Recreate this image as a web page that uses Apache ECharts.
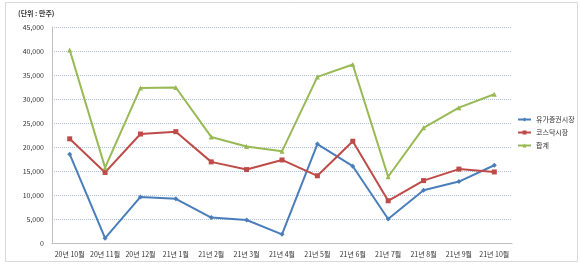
<!DOCTYPE html>
<html><head><meta charset="utf-8">
<script src="https://cdn.jsdelivr.net/npm/echarts@6/dist/echarts.min.js"></script>
<style>html,body{margin:0;padding:0;background:#fff}#c{width:580px;height:266px}</style>
</head><body><div id="c"></div>
<script>
const categories = ['20년 10월','20년 11월','20년 12월','21년 1월','21년 2월','21년 3월','21년 4월','21년 5월','21년 6월','21년 7월','21년 8월','21년 9월','21년 10월'];
const kospi = [18500,1000,9600,9200,5300,4800,1800,20600,16000,5000,11000,12800,16200];
const kosdaq = [21700,14700,22700,23200,16900,15300,17300,14000,21200,8800,13000,15400,14800];
const total = [40200,15700,32300,32400,22100,20100,19100,34600,37200,13800,24000,28200,31000];
const seriesNames = ['유가증권시장','코스닥시장','합계'];
const unitLabel = '(단위 : 만주)';

const font = '"Noto Sans CJK KR", sans-serif';
const chart = echarts.init(document.getElementById('c'));
function mk(name, data, color, symbol, size){
  return {name, type:'line', data, symbol, symbolSize:size, itemStyle:{color}, lineStyle:{color, width:2}, animation:false};
}
chart.setOption({
  animation:false,
  textStyle:{fontFamily:font},
  graphic:[
    {type:'rect', shape:{x:5.5,y:2.5,width:572,height:259}, style:{fill:'none', stroke:'#d9d9d9', lineWidth:1}},
    {type:'text', left:18, top:10, style:{text:unitLabel, font:'bold 7px '+font, fill:'#333'}}
  ],
  grid:{left:52, right:68, top:27, bottom:23, containLabel:false},
  legend:{orient:'vertical', left:512, top:111, itemWidth:13, itemHeight:5, itemGap:6,
    textStyle:{fontSize:7, color:'#333', fontFamily:font}, data:seriesNames},
  xAxis:{type:'category', data:categories, boundaryGap:true,
    axisLine:{lineStyle:{color:'#bfbfbf', width:1}}, axisTick:{show:false},
    axisLabel:{fontSize:7, color:'#333', margin:8, interval:0}},
  yAxis:{type:'value', min:0, max:45000, interval:5000,
    axisLine:{show:true, lineStyle:{color:'#bfbfbf'}}, axisTick:{show:false},
    axisLabel:{fontSize:7, color:'#333', margin:8, formatter:v=>v.toLocaleString('en-US')},
    splitLine:{lineStyle:{color:'#a9c1e0', type:'dotted', width:1}}},
  series:[
    mk(seriesNames[0], kospi, '#4a7ebb', 'diamond', 5),
    mk(seriesNames[1], kosdaq, '#be4b48', 'rect', 5),
    mk(seriesNames[2], total, '#98b954', 'triangle', 5)
  ]
});
</script></body></html>
